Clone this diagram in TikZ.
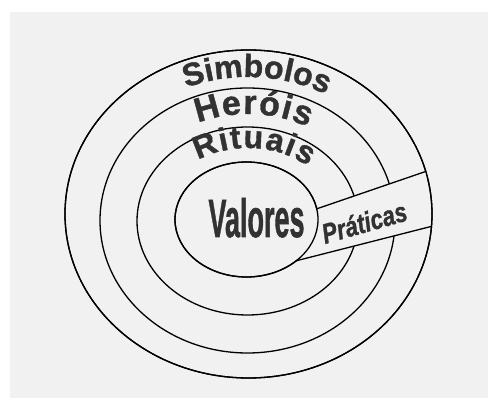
\documentclass[tikz,border=0pt]{standalone}
\usepackage{fontspec}
\setsansfont{Liberation Sans}
\newfontfamily\heavy{Liberation Sans}[FakeBold=1.2]
\usetikzlibrary{decorations.text,intersections}
\definecolor{paper}{RGB}{241,241,241}
\definecolor{ink}{RGB}{50,50,50}
\newcommand{\fSim}{\heavy\bfseries\fontsize{32pt}{32pt}\selectfont}
\newcommand{\fHer}{\heavy\bfseries\fontsize{34pt}{34pt}\selectfont}
\newcommand{\fRit}{\heavy\bfseries\fontsize{32pt}{32pt}\selectfont}
\newcommand{\fVal}{\heavy\bfseries\fontsize{54pt}{54pt}\selectfont}
\newcommand{\fPra}{\heavy\bfseries\itshape\fontsize{28pt}{28pt}\selectfont}
\tikzset{
  ring/.style={draw=black, line width=1.3pt},
  bandline/.style={draw=black, line width=1.3pt},
  arclabel/.style={decorate, decoration={text along path, text align={fit to path}, text color=ink}},
}
\begin{document}
\begin{tikzpicture}[x=1pt,y=1pt]
\useasboundingbox (0,0) rectangle (488,407);
\fill[white] (0,0) rectangle (488,407);
\fill[paper] (10,9) rectangle (488,395);
% rings
\path[ring, name path=outer] (248.5,193) ellipse [x radius=183.5, y radius=164];
\path[ring, name path=ringB] (247.5,186.5) ellipse [x radius=147.5, y radius=132.5];
\path[ring, name path=ringC] (247.5,186) ellipse [x radius=110.5, y radius=94];
\path[ring, name path=inner] (246.5,187.5) ellipse [x radius=71.5, y radius=57.5];
% band guide lines
\path[name path=upper] (290,189) -- (460,247.3);
\path[name path=lower] (280,142.1) -- (460,187.9);
\path[name intersections={of=upper and inner, by=ui}];
\path[name intersections={of=upper and outer, by=uo}];
\path[name intersections={of=lower and inner, by=li}];
\path[name intersections={of=lower and outer, by=lo}];
% gap in the rings
\fill[paper] (ui) -- (uo) -- (lo) -- (li) -- cycle;
\draw[ring] (248.5,193) ellipse [x radius=183.5, y radius=164];
\draw[ring] (246.5,187.5) ellipse [x radius=71.5, y radius=57.5];
\draw[bandline] (ui) -- (uo);
\draw[bandline] (li) -- (lo);
% labels
\path[arclabel, decoration={text={|\fSim|Simbolos}}]
  (248,193) ++ (112.8:160 and 137) arc[start angle=112.8, end angle=62.5, x radius=160, y radius=137];
\path[arclabel, decoration={text={|\fHer|Heróis}}]
  (248,187) ++ (113.6:125 and 106) arc[start angle=113.6, end angle=61.3, x radius=125, y radius=106];
\path[arclabel, decoration={text={|\fRit|Rituais}}]
  (248,187) ++ (123.7:90 and 72) arc[start angle=123.7, end angle=48.2, x radius=90, y radius=72];
\node[anchor=base, inner sep=0pt, text=ink] (valores) at (256.5,170)
  {\fVal\scalebox{0.5}[1]{Valores}};
\node[anchor=base, inner sep=0pt, text=ink, rotate=16] (praticas) at (367,175)
  {\fPra\scalebox{0.8}[1]{Práticas}};
\end{tikzpicture}
\end{document}
